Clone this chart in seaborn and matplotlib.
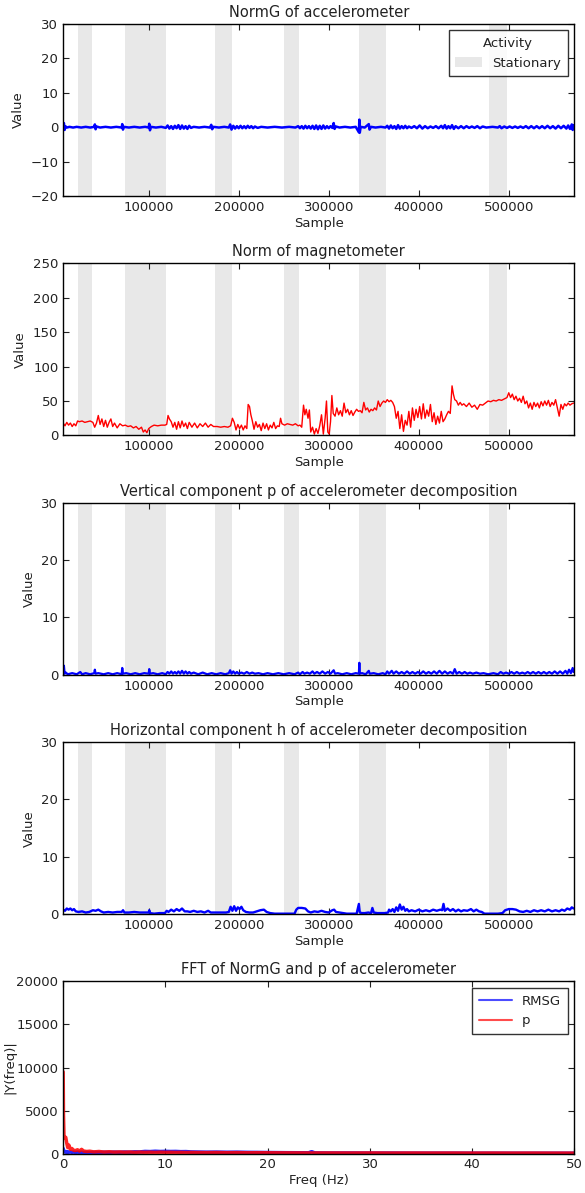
import matplotlib
matplotlib.use("Agg")
import matplotlib.pyplot as plt
from matplotlib.patches import Patch
from matplotlib.lines import Line2D
import seaborn as sns

# ---------------------------------------------------------------- data
# stationary intervals (sample index start, end)
stat_start = [21500, 74000, 174000, 250000, 334000, 478000]
stat_end = [37000, 119500, 192000, 266500, 363500, 498000]

# NormG of accelerometer
normg_x = [5000, 5800, 6600, 7400, 9000, 12000, 16000, 20000, 25000, 30000, 35000, 39500,
           40200, 41000, 42000, 46000, 52000, 58000, 64000, 70000, 70600, 71400, 72500, 78000,
           84000, 90000, 96000, 100000, 100600, 101400, 102500, 108000, 114000, 119000, 121000,
           123000, 125000, 127000, 129000, 131000, 133000, 135000, 137000, 139000, 141000,
           143000, 145000, 147000, 150000, 156000, 162000, 168000, 169500, 170500, 172000,
           178000, 184000, 189000, 190500, 192000, 194000, 196000, 198000, 200000, 202000,
           204000, 206000, 208000, 210000, 212000, 214000, 216000, 218000, 221000, 225000,
           232000, 240000, 248000, 256000, 263000, 266000, 268000, 270000, 272000, 274000,
           276000, 278000, 280000, 282000, 284000, 286000, 288000, 290000, 292000, 294000,
           296000, 298000, 300000, 302000, 304000, 305500, 306500, 308000, 312000, 318000,
           324000, 330000, 333500, 334000, 334500, 335500, 340000, 344500, 345300, 347000,
           352000, 358000, 363000, 365000, 367000, 369000, 371000, 373000, 375000, 377000,
           379000, 381000, 383000, 385000, 387000, 389000, 392000, 395000, 398000, 401000,
           404000, 407000, 410000, 413000, 416000, 419000, 422000, 425000, 427000, 429000,
           431000, 433000, 435000, 437000, 439000, 441000, 444000, 447000, 450000, 453000,
           456000, 459000, 462000, 465000, 468000, 471000, 475000, 482000, 488000, 490000,
           492000, 495000, 498000, 501000, 504000, 507000, 510000, 513000, 516000, 519000,
           522000, 525000, 528000, 531000, 534000, 537000, 540000, 543000, 546000, 549000,
           552000, 555000, 558000, 561000, 564000, 566000, 568000, 570000, 571000, 572000]
normg_y = [0.0, 1.2, -0.8, 0.3, -0.1, 0.1, -0.1, 0.1, -0.1, 0.1, -0.1, 0.1,
           0.8, -0.6, 0.2, -0.1, 0.1, -0.1, 0.1, -0.1, 0.9, -0.7, 0.1, -0.1,
           0.1, -0.1, 0.1, -0.1, 1.0, -0.9, 0.1, -0.1, 0.1, -0.2, 0.5,
           -0.4, 0.3, -0.5, 0.4, -0.3, 0.6, -0.5, 0.5, -0.4, 0.3,
           -0.5, 0.4, -0.2, 0.1, -0.1, 0.1, -0.1, 0.7, -0.6, 0.1,
           -0.1, 0.1, -0.1, 0.8, -0.7, 0.4, -0.4, 0.3, -0.3, 0.4,
           -0.3, 0.3, -0.3, 0.4, -0.2, 0.3, -0.3, 0.2, -0.2, 0.1,
           -0.1, 0.1, -0.1, 0.1, -0.1, 0.3, -0.3, 0.3, -0.4, 0.4,
           -0.3, 0.3, -0.4, 0.4, -0.5, 0.5, -0.6, 0.4, -0.5, 0.5,
           -0.4, 0.3, -0.3, 0.3, -0.2, 1.2, -0.5, 0.2, -0.1, 0.1,
           -0.1, 0.1, -1.5, 2.2, -1.6, 0.1, -0.1, 0.9, -0.7, 0.1,
           -0.1, 0.1, -0.1, 0.4, -0.4, 0.5, -0.3, 0.3, -0.5, 0.6,
           -0.4, 0.3, -0.3, 0.4, -0.3, 0.2, -0.2, 0.3, -0.3, 0.5,
           -0.4, 0.3, -0.3, 0.2, -0.2, 0.3, -0.3, 0.4, -0.3, 0.6,
           -0.4, 0.3, -0.3, 0.6, -0.5, 0.3, -0.3, 0.3, -0.3, 0.3,
           -0.2, 0.2, -0.2, 0.3, -0.3, 0.2, -0.1, 0.1, -0.1, 0.3,
           -0.3, 0.2, -0.2, 0.2, -0.2, 0.2, -0.2, 0.2, -0.2, 0.3,
           -0.3, 0.3, -0.3, 0.3, -0.3, 0.3, -0.3, 0.4, -0.3, 0.3,
           -0.4, 0.4, -0.3, 0.4, -0.4, 0.5, -0.5, 0.8, -0.8, 0.6]

# Norm of magnetometer
mag_x = [5000, 7000, 9000, 11000, 13000, 15000, 17000, 19000, 21000, 23000, 26000, 29000,
         32000, 35000, 38000, 40000, 42000, 44000, 46000, 48000, 50000, 52000, 54000, 56000,
         58000, 60000, 62000, 65000, 68000, 71000, 74000, 77000, 80000, 83000, 86000, 89000,
         92000, 94000, 96000, 98000, 100000, 103000, 106000, 110000, 114000, 118000, 120000,
         121500, 123000, 125000, 127000, 129000, 131000, 133000, 135000, 137000, 139000,
         141000, 143000, 145000, 148000, 151000, 154000, 157000, 160000, 163000, 166000,
         169000, 172000, 176000, 180000, 184000, 188000, 191000, 193000, 195000, 197000,
         199000, 201000, 203000, 205000, 207000, 209000, 210500, 212000, 213500, 215000,
         217000, 219000, 221000, 223000, 225000, 227000, 229000, 231000, 233000, 235000,
         237000, 239000, 241000, 243000, 245000, 246500, 248000, 251000, 254000, 257000,
         260000, 263000, 266000, 268000, 270000, 272000, 273500, 275000, 277000, 278500,
         280000, 282000, 284000, 286000, 288000, 290000, 292000, 294000, 296000, 297500,
         299000, 300500, 302000, 303500, 305000, 307000, 309000, 311000, 313000, 315000,
         317000, 319000, 321000, 323000, 325000, 327000, 329000, 331000, 333000, 335000,
         337000, 339000, 341000, 343000, 345000, 347000, 349000, 351000, 353000, 355000,
         357000, 359000, 361000, 363000, 365000, 367000, 369000, 371000, 373000, 375000,
         377000, 379000, 381000, 383000, 385000, 387000, 389000, 391000, 393000, 395000,
         397000, 399000, 401000, 403000, 405000, 407000, 409000, 411000, 413000, 415000,
         417000, 419000, 421000, 423000, 425000, 427000, 429000, 431000, 433000, 435000,
         437000, 438500, 440000, 442000, 444000, 446000, 448000, 450000, 453000, 456000,
         459000, 462000, 465000, 468000, 471000, 474000, 477000, 480000, 483000, 486000,
         489000, 492000, 495000, 498000, 500000, 502000, 504000, 506000, 508000, 510000,
         512000, 514000, 516000, 518000, 520000, 522000, 524000, 526000, 528000, 530000,
         532000, 534000, 536000, 538000, 540000, 542000, 544000, 546000, 548000, 550000,
         552000, 554000, 556000, 558000, 560000, 562000, 564000, 566000, 568000, 570000,
         572000]
mag_y = [18, 14, 19, 15, 18, 13, 17, 14, 21, 20, 21, 19,
         20, 21, 19, 12, 18, 29, 16, 24, 13, 22, 12, 19,
         24, 13, 18, 11, 17, 14, 15, 13, 14, 11, 13, 9,
         12, 5, 8, 4, 10, 13, 15, 14, 15, 15, 16,
         29, 24, 20, 12, 19, 9, 20, 11, 21, 13,
         18, 10, 19, 12, 18, 11, 17, 13, 18, 12,
         16, 13, 13, 12, 13, 12, 14, 25, 19, 8,
         16, 10, 15, 8, 14, 10, 45, 42, 30, 22,
         9, 20, 12, 16, 7, 18, 10, 17, 8, 15,
         11, 19, 10, 14, 13, 25, 17, 15, 17, 16,
         15, 17, 14, 15, 12, 44, 30, 38, 25, 37,
         5, 12, 2, 10, 3, 14, 30, 2, 25, 50,
         5, 2, 20, 58, 32, 28, 40, 30, 36, 28,
         47, 33, 38, 30, 36, 29, 34, 38, 35, 36,
         33, 48, 37, 40, 34, 38, 36, 40, 37, 50,
         42, 47, 50, 48, 52, 49, 51, 48, 42, 25,
         35, 10, 30, 6, 22, 15, 35, 12, 40, 22,
         38, 26, 42, 24, 46, 25, 37, 28, 45, 20,
         33, 16, 28, 18, 35, 20, 24, 30, 35, 32,
         72, 60, 52, 50, 44, 48, 44, 46, 42, 47,
         41, 44, 38, 45, 44, 47, 50, 49, 51, 50,
         52, 51, 53, 55, 62, 55, 60, 52, 57, 50,
         54, 48, 57, 46, 50, 40, 47, 38, 48, 42,
         47, 40, 49, 43, 50, 44, 51, 42, 48, 44,
         52, 40, 28, 45, 38, 46, 43, 47, 44, 46,
         47]

# vertical component p of accelerometer decomposition
p_x = [5000, 5800, 6600, 8000, 10000, 15000, 20000, 24000, 26000, 30000, 35000, 39500,
       40200, 41000, 44000, 50000, 55000, 60000, 65000, 70000, 70600, 71400, 75000, 80000,
       85000, 90000, 95000, 100000, 100600, 101400, 105000, 110000, 115000, 119000, 121000,
       123000, 125000, 127000, 129000, 131000, 133000, 135000, 137000, 139000, 141000,
       143000, 145000, 147000, 150000, 155000, 160000, 165000, 170000, 175000, 180000,
       185000, 189000, 190500, 192000, 194000, 196000, 198000, 200000, 203000, 206000,
       209000, 212000, 215000, 218000, 222000, 227000, 232000, 238000, 244000, 250000,
       256000, 262000, 266000, 268000, 271000, 273000, 276000, 279000, 282000, 284000,
       287000, 290000, 293000, 296000, 299000, 302000, 305500, 307000, 310000, 315000,
       320000, 325000, 330000, 333500, 334000, 334500, 337000, 341000, 344500, 345500,
       350000, 355000, 360000, 363000, 365000, 367000, 370000, 372000, 375000, 378000,
       381000, 384000, 387000, 390000, 393000, 396000, 399000, 402000, 405000, 408000,
       411000, 414000, 417000, 420000, 423000, 426000, 429000, 432000, 435000, 438000,
       440000, 442000, 445000, 448000, 451000, 454000, 457000, 460000, 464000, 468000,
       472000, 477000, 483000, 488000, 491000, 494000, 497000, 500000, 503000, 506000,
       509000, 512000, 515000, 518000, 521000, 524000, 527000, 530000, 533000, 536000,
       539000, 542000, 545000, 548000, 551000, 554000, 557000, 560000, 563000, 565000,
       567000, 569000, 571000, 572000]
p_y = [0.2, 1.6, 0.2, 0.4, 0.1, 0.3, 0.1, 0.5, 0.1, 0.3, 0.1, 0.3,
       0.9, 0.2, 0.3, 0.1, 0.3, 0.1, 0.3, 0.1, 1.2, 0.2, 0.3, 0.1,
       0.3, 0.1, 0.3, 0.2, 1.0, 0.2, 0.3, 0.1, 0.3, 0.1, 0.5,
       0.2, 0.6, 0.2, 0.5, 0.2, 0.6, 0.2, 0.7, 0.2, 0.6,
       0.2, 0.5, 0.2, 0.4, 0.1, 0.4, 0.1, 0.3, 0.1, 0.3,
       0.1, 0.3, 0.8, 0.2, 0.6, 0.2, 0.5, 0.2, 0.4, 0.2,
       0.5, 0.2, 0.4, 0.2, 0.3, 0.1, 0.3, 0.1, 0.3, 0.1,
       0.3, 0.1, 0.4, 0.1, 0.5, 0.2, 0.4, 0.2, 0.6, 0.2,
       0.5, 0.2, 0.6, 0.2, 0.5, 0.2, 0.8, 0.2, 0.3, 0.1,
       0.3, 0.1, 0.3, 0.2, 2.1, 0.2, 0.3, 0.1, 0.7, 0.2,
       0.3, 0.1, 0.3, 0.1, 0.6, 0.2, 0.7, 0.2, 0.6, 0.2,
       0.5, 0.2, 0.6, 0.2, 0.5, 0.2, 0.5, 0.2, 0.6, 0.2,
       0.5, 0.2, 0.6, 0.2, 0.7, 0.2, 0.6, 0.2, 0.5, 0.2,
       1.0, 0.2, 0.5, 0.2, 0.5, 0.2, 0.4, 0.2, 0.4, 0.2,
       0.3, 0.1, 0.3, 0.1, 0.5, 0.2, 0.4, 0.2, 0.5, 0.2,
       0.5, 0.2, 0.4, 0.2, 0.5, 0.2, 0.5, 0.2, 0.5, 0.2,
       0.5, 0.2, 0.5, 0.2, 0.6, 0.2, 0.6, 0.2, 0.7, 0.2,
       0.9, 0.3, 1.2, 0.5]

# horizontal component h of accelerometer decomposition
h_x = [5000, 7000, 9000, 11000, 13000, 15000, 17000, 19000, 22000, 26000, 30000, 34000,
       38000, 41000, 44000, 47000, 50000, 55000, 60000, 65000, 70000, 71500, 73000, 78000,
       84000, 90000, 95000, 100000, 100600, 101500, 106000, 112000, 118000, 120000, 122000,
       125000, 128000, 131000, 134000, 137000, 140000, 143000, 146000, 150000, 154000,
       158000, 162000, 166000, 169000, 172000, 180000, 186000, 189000, 191000, 193000,
       195000, 197000, 199000, 201000, 203000, 205000, 208000, 212000, 216000, 220000,
       224000, 228000, 231000, 235000, 240000, 245000, 250000, 262000, 264000, 266000,
       270000, 274000, 277000, 280000, 284000, 288000, 292000, 296000, 300000, 304000,
       306000, 308000, 312000, 316000, 320000, 326000, 331000, 333500, 334500, 337000,
       340000, 344000, 347000, 348500, 350000, 354000, 358000, 362000, 366000, 367000,
       369000, 371000, 373000, 375000, 377000, 379000, 381000, 383000, 385000, 387000,
       389000, 392000, 396000, 400000, 404000, 408000, 412000, 416000, 420000, 424000,
       426000, 427500, 429000, 432000, 435000, 438000, 441000, 444000, 447000, 450000,
       454000, 458000, 461000, 464000, 467000, 470000, 473000, 480000, 488000, 493000,
       496000, 500000, 504000, 508000, 512000, 516000, 520000, 524000, 528000, 532000,
       536000, 540000, 544000, 548000, 552000, 556000, 559000, 562000, 565000, 568000,
       570000, 572000]
h_y = [0.8, 0.6, 1.0, 0.8, 1.0, 0.7, 0.9, 0.5, 0.4, 0.5, 0.3, 0.4,
       0.7, 0.6, 0.8, 0.5, 0.3, 0.4, 0.3, 0.4, 0.4, 0.7, 0.3, 0.3,
       0.4, 0.3, 0.3, 0.3, 0.7, 0.2, 0.1, 0.2, 0.2, 0.6, 0.4,
       0.8, 0.5, 0.9, 0.6, 1.0, 0.5, 0.5, 0.4, 0.6, 0.4,
       0.5, 0.3, 0.6, 0.3, 0.3, 0.3, 0.3, 0.4, 1.3, 0.6,
       1.4, 0.6, 1.2, 0.9, 1.3, 0.7, 0.4, 0.3, 0.3, 0.5,
       0.7, 0.8, 0.4, 0.2, 0.1, 0.1, 0.1, 0.1, 0.8, 1.1,
       1.1, 1.0, 0.5, 0.3, 0.5, 0.4, 0.6, 0.4, 0.3, 0.7,
       0.8, 0.4, 0.3, 0.2, 0.1, 0.1, 0.1, 1.8, 0.3, 0.2,
       0.2, 0.3, 0.2, 1.1, 0.3, 0.2, 0.2, 0.2, 0.3, 0.8,
       0.5, 0.9, 0.4, 1.2, 0.6, 1.7, 0.8, 1.3, 0.6, 0.9,
       0.5, 0.7, 0.5, 0.8, 0.5, 0.7, 0.5, 0.8, 0.6, 0.8,
       0.7, 1.8, 0.6, 1.0, 0.6, 0.9, 0.5, 0.8, 0.5, 0.7,
       0.6, 0.9, 0.5, 0.8, 0.5, 0.4, 0.1, 0.1, 0.1, 0.2,
       0.7, 0.9, 0.9, 0.8, 0.5, 0.4, 0.6, 0.4, 0.7, 0.5,
       0.7, 0.5, 0.8, 0.5, 0.7, 0.5, 0.8, 0.6, 1.0, 0.8,
       1.2, 1.0]

# FFT magnitude spectra
fft_freq = [0.0, 0.03, 0.08, 0.15, 0.25, 0.35, 0.45, 0.55, 0.7, 0.85, 1.0, 1.2, 1.4, 1.6,
            1.8, 2.0, 2.3, 2.6, 3.0, 3.5, 4.0, 4.5, 5.0, 5.5, 6.0, 6.5, 7.0, 7.5, 8.0, 8.5,
            9.0, 9.5, 10.0, 10.5, 11.0, 11.5, 12.0, 12.5, 13.0, 14.0, 15.0, 16.0, 17.0, 18.0,
            19.0, 20.0, 22.0, 24.0, 24.3, 24.6, 26.0, 28.0, 30.0, 32.0, 34.0, 36.0, 38.0, 40.0,
            42.0, 44.0, 46.0, 48.0, 50.0]
fft_rmsg = [600, 350, 250, 200, 260, 150, 220, 160, 200, 150, 180, 140, 170, 150,
            160, 140, 150, 130, 160, 140, 170, 150, 180, 160, 190, 170, 210, 200, 260, 240,
            280, 250, 270, 250, 260, 230, 240, 200, 190, 170, 180, 160, 170, 150,
            140, 130, 110, 100, 230, 90, 80, 80, 70, 70, 60, 60, 60, 55,
            55, 50, 50, 50, 50]
fft_p = [9500, 4500, 2000, 1800, 1900, 1200, 700, 1000, 500, 600, 400, 350, 450, 300,
         500, 300, 250, 280, 200, 250, 180, 220, 170, 200, 160, 190, 150, 180, 150, 170,
         140, 170, 150, 160, 140, 150, 130, 140, 130, 120, 130, 110, 120, 100,
         110, 100, 90, 80, 80, 80, 80, 75, 80, 70, 75, 70, 72, 65,
         70, 65, 68, 62, 60]

# ---------------------------------------------------------------- style
sns.set_style("white")
plt.rcParams.update({
    "font.family": ["DejaVu Sans"],
    "axes.edgecolor": "black",
    "axes.linewidth": 1.0,
    "xtick.direction": "in",
    "ytick.direction": "in",
    "xtick.top": True,
    "xtick.bottom": True,
    "ytick.left": True,
    "ytick.right": True,
    "xtick.major.size": 4,
    "ytick.major.size": 4,
    "xtick.major.width": 0.8,
    "ytick.major.width": 0.8,
    "xtick.labelsize": 9.5,
    "ytick.labelsize": 9.5,
    "axes.labelsize": 9.5,
    "axes.titlesize": 10.5,
    "text.color": "#222222",
    "axes.labelcolor": "#222222",
    "xtick.color": "#222222",
    "ytick.color": "#222222",
})

fig, axes = plt.subplots(5, 1, figsize=(5.85, 11.93), dpi=100)
fig.subplots_adjust(left=0.108, right=0.982, top=0.980, bottom=0.033, hspace=0.39)

shade = "#e8e8e8"
x_lim = (5000, 573000)
x_ticks = [100000, 200000, 300000, 400000, 500000]

time_panels = [
    (normg_x, normg_y, "blue", 1.8, "NormG of accelerometer", (-20, 30), [-20, -10, 0, 10, 20, 30]),
    (mag_x, mag_y, "red", 1.0, "Norm of magnetometer", (0, 250), [0, 50, 100, 150, 200, 250]),
    (p_x, p_y, "blue", 1.6, "Vertical component p of accelerometer decomposition", (0, 30), [0, 10, 20, 30]),
    (h_x, h_y, "blue", 1.7, "Horizontal component h of accelerometer decomposition", (0, 30), [0, 10, 20, 30]),
]

for ax, (xs, ys, col, lw, title, ylim, yticks) in zip(axes[:4], time_panels):
    for s, e in zip(stat_start, stat_end):
        ax.axvspan(s, e, color=shade, lw=0, zorder=0)
    sns.lineplot(x=xs, y=ys, ax=ax, color=col, lw=lw, estimator=None, sort=False, zorder=2)
    ax.set_xlim(*x_lim)
    ax.set_ylim(*ylim)
    ax.set_xticks(x_ticks)
    ax.set_yticks(yticks)
    ax.set_title(title, pad=5)
    ax.set_xlabel("Sample", labelpad=2)
    ax.set_ylabel("Value", labelpad=4)

# legend for the activity shading
leg = axes[0].legend(handles=[Patch(facecolor=shade, edgecolor="none", label="Stationary")],
                     title="Activity", loc="upper right", fontsize=9.5, title_fontsize=9.5,
                     frameon=True, fancybox=False, borderpad=0.5, handlelength=2.0)
leg.get_frame().set_edgecolor("black")
leg.get_frame().set_linewidth(1.0)

# FFT panel
ax = axes[4]
sns.lineplot(x=fft_freq, y=fft_rmsg, ax=ax, color="blue", lw=2.5, alpha=0.85,
             estimator=None, sort=False)
sns.lineplot(x=fft_freq, y=fft_p, ax=ax, color="red", lw=2.5, alpha=0.85,
             estimator=None, sort=False)
ax.set_xlim(0, 50)
ax.set_ylim(0, 20000)
ax.set_xticks([0, 10, 20, 30, 40, 50])
ax.set_yticks([0, 5000, 10000, 15000, 20000])
ax.set_title("FFT of NormG and p of accelerometer", pad=5)
ax.set_xlabel("Freq (Hz)", labelpad=2)
ax.set_ylabel("|Y(freq)|", labelpad=0)
leg2 = ax.legend(handles=[Line2D([], [], color="blue", alpha=0.7, lw=1.5, label="RMSG"),
                          Line2D([], [], color="red", alpha=0.7, lw=1.5, label="p")],
                 loc="upper right", fontsize=9.5, frameon=True, fancybox=False,
                 borderpad=0.5, handlelength=2.5)
leg2.get_frame().set_edgecolor("black")
leg2.get_frame().set_linewidth(1.0)

fig.savefig("out.png", dpi=100, facecolor="white")
